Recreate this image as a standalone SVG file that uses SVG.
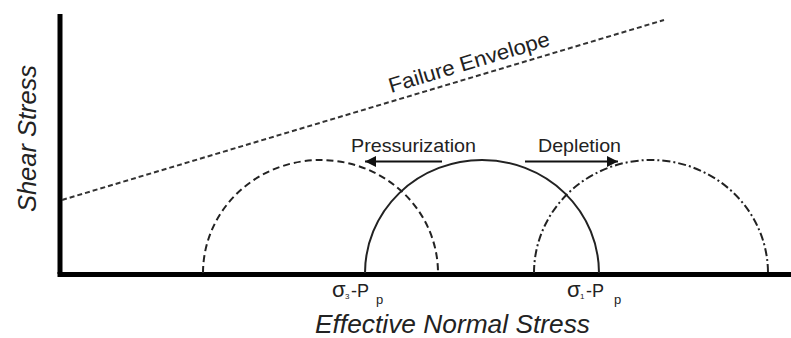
<svg xmlns="http://www.w3.org/2000/svg" width="791" height="338" viewBox="0 0 791 338">
<defs>
<style>
.t{font-family:"Liberation Sans",Arial,sans-serif;fill:#222}
.it{font-style:italic}
.ax{stroke:#000;stroke-width:5;fill:none}
.arc{stroke:#222;stroke-width:2;fill:none}
.sg{font-size:18px}
.ss{font-size:22px}
.sd{font-size:8px}
.sp{font-size:13px}
</style>
<marker id="ah" viewBox="0 0 10 10" refX="10" refY="5" markerWidth="11" markerHeight="11" markerUnits="userSpaceOnUse" orient="auto">
<path d="M0,0 L10,5 L0,10 z" fill="#111"/>
</marker>
</defs>
<rect width="791" height="338" fill="#fff"/>
<g id="axes">
<line class="ax" x1="60" y1="14" x2="60" y2="274"/>
<line class="ax" x1="57.5" y1="274.5" x2="791" y2="274.5"/>
<text class="t it" font-size="25" textLength="147" lengthAdjust="spacingAndGlyphs" transform="translate(36,212) rotate(-90)">Shear Stress</text>
<text class="t it" font-size="25" x="315" y="333" textLength="275" lengthAdjust="spacingAndGlyphs">Effective Normal Stress</text>
</g>
<g id="failure-envelope">
<line x1="62" y1="200" x2="664" y2="20" stroke="#333" stroke-width="2" stroke-dasharray="5,3"/>
<text class="t" font-size="21" textLength="167" lengthAdjust="spacingAndGlyphs" transform="translate(391,93) rotate(-16.6)">Failure Envelope</text>
</g>
<g id="circle-pressurized">
<path class="arc" d="M203,273 A117.5,113 0 0 1 438,273" stroke-dasharray="7,4"/>
</g>
<g id="circle-initial">
<path class="arc" d="M365,273 A117,113 0 0 1 599,273"/>
</g>
<g id="circle-depleted">
<path class="arc" d="M534,273 A117,113 0 0 1 768,273" stroke-dasharray="8,3,2,3"/>
</g>
<g id="connectors">
<line x1="442" y1="161.5" x2="365" y2="161.5" stroke="#111" stroke-width="2" marker-end="url(#ah)"/>
<line x1="525" y1="161.5" x2="618" y2="161.5" stroke="#111" stroke-width="2" marker-end="url(#ah)"/>
</g>
<g id="labels">
<text class="t" font-size="19" x="351" y="152" textLength="125" lengthAdjust="spacingAndGlyphs">Pressurization</text>
<text class="t" font-size="19" x="538" y="152" textLength="83" lengthAdjust="spacingAndGlyphs">Depletion</text>
<text class="t"><tspan class="ss" x="332" y="297">σ</tspan><tspan class="sd" x="345" y="299">3</tspan><tspan class="sg" x="351" y="297">-P</tspan><tspan class="sp" x="376" y="304">p</tspan></text>
<text class="t"><tspan class="ss" x="567" y="297">σ</tspan><tspan class="sd" x="580" y="299">1</tspan><tspan class="sg" x="586" y="297">-P</tspan><tspan class="sp" x="614" y="304">p</tspan></text>
</g>
</svg>
